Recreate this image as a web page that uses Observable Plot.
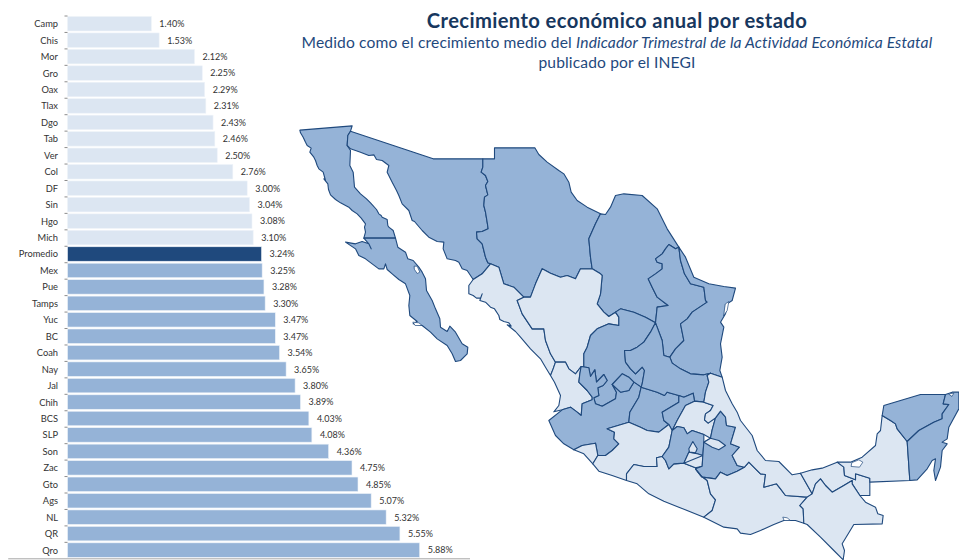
<!DOCTYPE html>
<html lang="es">
<head>
<meta charset="utf-8">
<script src="https://cdn.jsdelivr.net/npm/d3@7"></script>
<script src="https://cdn.jsdelivr.net/npm/@observablehq/plot@0.6"></script>
<style>
  html, body { margin: 0; padding: 0; background: #fff; }
  #page { position: relative; width: 959px; height: 560px; overflow: hidden; font-family: Lato, "Open Sans", sans-serif; }
  #page > svg, #page > figure { position: absolute; left: 0; top: 0; margin: 0; }
  #heading { position: absolute; left: 277px; width: 680px; top: 7px; text-align: center; }
  #heading h1 { margin: 0; font-size: 20.2px; line-height: 26px; font-weight: 700; color: #17375e; letter-spacing: .38px; }
  #heading p { margin: 0; font-size: 15.6px; line-height: 19.5px; color: #1f497d; letter-spacing: .14px; }
</style>
</head>
<body>
<div id="page">
  <div id="heading">
    <h1>Crecimiento económico anual por estado</h1>
    <p>Medido como el crecimiento medio del <em>Indicador Trimestral de la Actividad Económica Estatal</em><br>publicado por el INEGI</p>
  </div>
</div>
<script>
// Annual growth by state, in percent
const states = ["Camp","Chis","Mor","Gro","Oax","Tlax","Dgo","Tab","Ver","Col","DF","Sin","Hgo","Mich","Promedio","Mex","Pue","Tamps","Yuc","BC","Coah","Nay","Jal","Chih","BCS","SLP","Son","Zac","Gto","Ags","NL","QR","Qro"];
const growth = [1.40,1.53,2.12,2.25,2.29,2.31,2.43,2.46,2.50,2.76,3.00,3.04,3.08,3.10,3.24,3.25,3.28,3.30,3.47,3.47,3.54,3.65,3.80,3.89,4.03,4.08,4.36,4.75,4.85,5.07,5.32,5.55,5.88];
const average = "Promedio";
const rows = states.map((state, i) => ({state, value: growth[i]}));

const light = "#dce6f2", mid = "#95b3d7", dark = "#1f497d";
const barColor = d => d.state === average ? dark : d.value > 3.24 ? mid : light;

// States shaded as above average on the map
const shadedStates = ["BC","BCS","Son","Chih","Coah","NL","Tamps","SLP","Zac","Ags","Jal","Gto","Qro","Mex","Pue","Yuc","QR"];

// Outline arcs are digitised on four map sheets, each with its own origin and a scale of 3 units per map unit
const sheet = (x0, y0) => pts => pts.map(([x, y]) => [x0 + x / 3, y0 + y / 3]);
const NW = sheet(290, 115), NE = sheet(480, 140), C = sheet(540, 340), SE = sheet(740, 380);
const rev = a => [...a].reverse();

// Shared borders
const bcCoast = NW([[220,368],[225,350],[222,335],[225,325],[212,308],[200,295],[185,285],[175,275],[150,262],[135,252],[120,238],[114,222],[112,205],[100,190],[105,195],[98,170],[85,160],[80,150],[75,135],[70,125],[58,110],[62,98],[50,90],[45,80],[38,65],[30,52],[28,44],[185,31],[180,47]]);
const bcSon = NW([[180,47],[172,60],[170,90]]);
const bcGulf = NW([[170,90],[180,105],[178,150],[188,170],[192,215],[210,235],[228,250],[240,262],[258,282],[265,295],[272,300],[275,305],[290,312],[292,330],[295,335],[308,345],[315,368]]);
const bcBcs = NW([[315,368],[220,368]]);
const bcsCoast = NW([[315,368],[322,395],[345,410],[352,430],[368,435],[385,455],[395,470],[405,490],[408,525],[425,555],[435,580],[448,610],[450,635],[470,648],[478,632],[495,650],[515,685],[532,695],[530,715],[510,735],[495,738],[485,715],[470,690],[440,670],[420,650],[395,630],[368,625],[380,618],[358,600],[355,570],[358,540],[345,505],[325,492],[305,475],[290,462],[285,445],[280,460],[265,460],[245,445],[225,430],[205,420],[195,400],[165,380],[195,385],[215,378],[235,385],[242,400],[235,385],[220,368]]);
const sonNorth = NW([[180,47],[428,130],[577,130]]);
const sonChih = NW([[577,130],[577,155],[572,170],[585,180],[592,198],[585,210],[592,238],[582,245],[580,270],[585,290],[590,320],[593,340],[575,348],[558,350],[560,370],[575,385],[580,405],[585,425],[592,442],[600,445]]);
const sonSin = NW([[600,445],[575,475],[548,492]]);
const sonCoast = NW([[548,492],[530,465],[515,460],[505,440],[495,435],[470,430],[458,400],[460,380],[440,378],[415,365],[395,345],[372,318],[365,315],[355,285],[335,265],[325,240],[318,225],[305,200],[290,170],[295,150],[275,135],[258,132],[250,118],[235,120],[210,110],[180,100],[170,90]]);
const chihNorth = [...NE([[42,55],[42,22],[163,22],[175,42],[200,65],[235,90],[250,100],[265,125],[272,155],[290,180],[320,200],[360,220]])];
const chihCoah = NE([[360,220],[345,250],[325,295],[330,350],[335,385]]);
const chihDgo = NE([[335,385],[300,385],[285,415],[260,405],[240,410],[210,398],[185,385],[165,430],[150,470],[130,470]]);
const chihSin = NE([[130,470],[100,440],[70,430],[55,380],[30,370]]);
const coahNorth = NE([[360,220],[375,222],[390,200],[405,165],[430,160],[485,165],[530,205],[560,265],[595,320]]);
const coahNL = NE([[595,320],[585,325],[565,312],[555,325],[545,340],[525,355],[530,365],[545,370],[545,385],[525,400],[503,415],[515,440],[530,470],[563,495],[530,500],[525,547]]);
const coahZac = NE([[525,547],[495,530],[460,515],[420,505],[405,515]]);
const coahDgo = NE([[405,515],[385,528],[370,515],[350,490],[360,460],[365,405],[360,400],[335,385]]);
const dgoZac = [...NE([[405,515],[415,530],[415,555],[385,550],[350,565],[330,585],[320,620],[310,640],[310,680]]), ...C([[122,78]])];
const dgoNay = C([[122,78],[105,100],[85,85],[75,65],[50,65],[45,65]]);
const sinDgo = [...C([[45,65],[30,40],[15,0]]), ...NE([[190,565],[155,565],[125,520],[110,480],[130,470]])];
const sinCoast = [...NW([[548,492],[535,510],[535,535],[548,540],[558,548],[570,548],[575,535],[568,555],[585,560],[600,575],[612,580],[625,600],[628,612],[640,618],[655,622],[662,632],[650,628],[675,648],[690,665],[720,700]]), ...C([[0,55],[15,80],[30,105]])];
const sinNay = C([[30,105],[38,85],[45,65]]);
const nayJal = C([[122,78],[118,100],[115,125],[140,150],[155,170],[155,178],[125,190],[122,225],[110,215],[90,200],[65,208]]);
const nayCoast = C([[65,208],[40,214],[55,195],[60,165],[42,125],[30,105]]);
const zacJal = C([[122,78],[145,82],[150,108],[163,88],[168,125],[190,102],[200,120],[188,135],[172,142],[175,165],[160,172],[165,190],[185,197],[225,175],[228,155],[215,132]]);
const agsNorth = C([[215,132],[245,100],[265,110],[280,125]]);
const agsSouth = C([[215,132],[240,155],[265,150],[280,125]]);
const agsJ = C([[280,125],[302,140]]);
const slpZac = [...NE([[525,547],[510,575],[490,605],[470,620],[450,630],[432,630],[435,665]]), ...C([[270,85],[285,100],[305,80],[312,90],[305,130],[302,140]])];
const nlSlp = [...NE([[525,547],[545,600],[550,645]]), ...C([[388,50]])];
const tampsNL = [...C([[388,50]]), ...NE([[585,625],[610,600],[600,550],[620,535],[635,515],[680,485],[675,480],[670,440],[630,430],[612,400],[600,360],[595,320]])];
const tampsCoast = [...NE([[595,320],[615,350],[640,410],[685,430],[730,438],[765,443],[755,480],[740,490],[735,520],[720,545],[730,560],[720,610],[725,650],[718,690]]), ...C([[545,110]])];
const tampsVer = C([[545,110],[510,98]]);
const tampsSlp = C([[510,98],[490,103],[450,100],[420,85],[395,68],[388,50]]);
const slpVer = C([[510,98],[500,105],[505,125],[495,155],[490,185]]);
const slpHgo = C([[490,185],[462,182]]);
const slpQro = C([[462,182],[458,158],[430,170],[415,165]]);
const slpGto = C([[415,165],[380,155],[372,165],[350,155],[302,140]]);
const qroHgo = C([[462,182],[435,195],[410,240],[395,270]]);
const qroSouth = C([[395,270],[385,252]]);
const qroGto = C([[385,252],[370,240],[365,215],[415,185],[415,165]]);
const hgoVer = C([[490,185],[518,195],[510,210],[495,220],[492,238],[503,248],[525,232]]);
const hgoPue = C([[525,232],[515,268],[510,293]]);
const hgoMex = C([[395,270],[410,258],[430,262],[440,280],[455,270],[490,282]]);
const pueVer = C([[525,232],[540,212],[555,230],[558,255],[585,260],[570,310],[597,320],[575,345],[590,375],[612,380]]);
const pueOax = C([[612,380],[590,392],[560,405],[540,395],[525,415],[485,410],[465,385]]);
const mexPue = C([[490,282],[490,305],[487,345]]);
const mexMor = C([[487,345],[470,340],[445,335],[430,368]]);
const mexGro = C([[430,368],[400,370],[385,385],[375,360],[365,348]]);
const mexMich = C([[365,348],[385,320],[395,270]]);
const morGro = C([[430,368],[440,372],[465,382],[485,377]]);
const morPue = C([[485,377],[487,345]]);
const oaxVer = [...C([[612,380],[625,365],[645,385],[660,400]]), ...SE([[75,282],[70,320],[108,310],[120,325],[135,345],[200,350]])];
const oaxChis = SE([[200,350],[178,375],[188,385],[190,428]]);
const oaxCoast = [...SE([[190,428],[165,420],[130,420],[100,432],[60,450],[30,462],[0,458]]), ...C([[590,565],[550,560],[490,530]])];
const oaxGro = C([[490,530],[515,510],[525,478],[510,460],[500,420],[480,405],[465,385]]);
const groCoast = C([[490,530],[415,500],[370,482],[325,460],[290,430],[258,420]]);
const groMich = C([[258,420],[258,400],[280,372],[310,378],[350,378],[348,352],[365,348]]);
const michCoast = C([[258,420],[215,405],[175,392],[157,370]]);
const colMich = C([[157,370],[172,345]]);
const jalMich = C([[172,345],[195,345],[215,330],[235,310],[220,295],[222,275],[200,265],[265,245]]);
const gtoMich = C([[265,245],[300,260],[320,270],[355,275],[385,252]]);
const gtoJal = C([[302,140],[295,170],[268,215],[265,245]]);
const jalCol = C([[172,345],[165,308],[125,315],[100,328]]);
const colCoast = C([[100,328],[130,340],[157,370]]);
const jalCoast = C([[100,328],[70,310],[45,285],[25,240],[65,208]]);
const verCoast = [...C([[545,110],[555,150],[575,190],[590,215],[600,240],[635,285]]), ...SE([[50,210],[75,240],[115,243],[155,283],[180,278]])];
const verTab = SE([[200,350],[215,340],[180,278]]);
const tabCoast = SE([[180,278],[215,268],[245,263],[290,245]]);
const tabCamp = SE([[290,245],[310,260],[312,285],[345,298],[345,280],[388,293],[388,305]]);
const tabChis = SE([[388,305],[388,345],[358,345],[335,310],[335,300],[310,315],[275,335],[255,315],[240,295],[225,310],[215,340]]);
const chisRest = SE([[358,345],[375,365],[405,380],[412,400],[428,405],[425,430],[340,432],[305,490],[312,510],[308,538],[280,510],[240,470],[200,432],[190,428]]);
const chisInner = SE([[215,340],[225,310],[240,295],[255,315],[275,335],[310,315],[335,300],[335,310],[358,345]]);
const campSouth = SE([[388,305],[508,300],[500,183]]);
const campYuc = SE([[500,183],[470,145],[465,130],[450,120],[425,105]]);
const campCoast = SE([[425,105],[420,150],[410,160],[405,195],[365,230],[330,245],[290,245]]);
const yucQR = SE([[615,42],[608,70],[625,72],[605,100],[605,115],[580,125],[535,150],[500,183]]);
const yucCoast = SE([[425,105],[430,75],[480,60],[540,42],[615,42]]);
const qrCoast = SE([[615,42],[635,35],[655,35],[655,85],[625,140],[620,175],[605,185],[620,190],[605,210],[600,260],[585,300],[580,270],[585,235],[575,240],[560,265],[530,298],[508,300],[500,183]]);

// One closed ring per state; later rings sit over earlier ones (DF inside Mex, Tlax beside Pue)
const rings = {
  BC: [bcCoast, bcSon, bcGulf, bcBcs],
  BCS: [bcsCoast],
  Son: [sonNorth, sonChih, sonSin, sonCoast, rev(bcSon)],
  Chih: [rev(sonChih), chihNorth, chihCoah, chihDgo, chihSin],
  Coah: [coahNorth, coahNL, coahZac, coahDgo, rev(chihCoah)],
  NL: [coahNL, nlSlp, tampsNL],
  Tamps: [tampsCoast, tampsVer, tampsSlp, tampsNL],
  Sin: [chihSin, sonSin, sinCoast, sinNay, sinDgo],
  Dgo: [rev(chihDgo), rev(coahDgo), dgoZac, dgoNay, sinDgo],
  Nay: [rev(dgoNay), nayJal, nayCoast, sinNay],
  Zac: [coahZac, dgoZac, zacJal, agsNorth, agsJ, rev(slpZac)],
  Jal: [jalCoast, rev(nayJal), zacJal, agsSouth, agsJ, gtoJal, rev(jalMich), jalCol],
  Ags: [agsNorth, rev(agsSouth)],
  Col: [rev(colMich), jalCol, colCoast],
  Gto: [rev(slpGto), rev(qroGto), rev(gtoMich), rev(gtoJal)],
  SLP: [rev(slpZac), nlSlp, rev(tampsSlp), slpVer, slpHgo, slpQro, slpGto],
  Qro: [rev(slpQro), qroHgo, qroSouth, qroGto],
  Hgo: [rev(qroHgo), rev(slpHgo), hgoVer, hgoPue, C([[490,282]]), rev(hgoMex)],
  Mich: [rev(groMich), michCoast, colMich, jalMich, gtoMich, rev(qroSouth), rev(mexMich)],
  Gro: [rev(oaxGro), groCoast, groMich, rev(mexGro), morGro, C([[465,385]])],
  Mex: [hgoMex, mexPue, mexMor, mexGro, mexMich],
  Mor: [rev(mexMor), morGro, morPue],
  Pue: [pueVer, pueOax, C([[485,377],[487,345],[490,305],[510,293]]), rev(hgoPue)],
  Oax: [rev(pueOax), oaxVer, oaxChis, oaxCoast, oaxGro],
  Ver: [tampsVer, slpVer, hgoVer, pueVer, oaxVer, verTab, rev(verCoast)],
  Tab: [tabCoast, tabCamp, tabChis, rev(verTab).slice(0, 2).reverse()],
  Chis: [chisInner, chisRest, rev(oaxChis), SE([[215,340]])],
  Camp: [tabCamp, campSouth, campYuc, campCoast],
  Yuc: [yucCoast, yucQR, campYuc],
  QR: [qrCoast, rev(yucQR)],
  Tlax: [C([[490,305],[510,293],[535,300],[555,315],[535,328],[515,320],[490,305]])],
  DF: [C([[445,325],[457,303],[470,325],[465,337],[447,335],[445,325]])]
};

// Small inland waters and islands left white
const waters = [
  NW([[372,452],[380,452],[388,470],[380,474],[372,462]]),
  NW([[368,620],[385,622],[395,630],[375,630]]),
  SE([[335,246],[355,238],[367,245],[357,260],[333,258]]),
  SE([[128,410],[140,412],[150,420],[132,420]]),
  NE([[735,490],[745,483],[740,510],[730,525]]),
  SE([[625,40],[640,38],[635,47]])
];

const feature = (name, ring) => ({type: "Feature", properties: {name}, geometry: {type: "Polygon", coordinates: [ring]}});
const closed = r => [...r, r[0]];
const mapFeatures = Object.entries(rings).map(([name, arcs]) => feature(name, closed(arcs.flat())));
const waterFeatures = waters.map((r, i) => feature("agua" + i, closed(r)));

const step = (558.3 - 15.5) / states.length;

const bars = Plot.plot({
  width: 470, height: 560,
  marginTop: 15.5, marginBottom: 1.7, marginLeft: 67.5, marginRight: 0,
  x: {domain: [0, 6.72], range: [67.5, 470], axis: null},
  y: {domain: states, range: [15.5, 558.3], paddingInner: 0.12, paddingOuter: 0.06, round: false, label: null, axis: null},
  style: {fontFamily: "Lato, 'Open Sans', sans-serif", fontSize: "9px", color: "#333"},
  marks: [
    Plot.barX(rows, {x: "value", y: "state", fill: barColor, stroke: "#eef3f9", strokeWidth: 0.6}),
    Plot.text(rows, {x: "value", y: "state", text: d => d.value.toFixed(2) + "%", textAnchor: "start", dx: 7.5, fontSize: 9, fill: "#333"}),
    Plot.axisY({anchor: "left", tickSize: 0, tickPadding: 10, fontSize: 9.3, label: null}),
    Plot.ruleY(states, {y: d => d, dy: -step / 2, x1: -0.05, x2: 0, stroke: "#8c8c8c", strokeWidth: 1}),
    Plot.ruleY([states[states.length - 1]], {y: d => d, dy: step / 2, x1: -0.99, x2: 6.72, stroke: "#a6a6a6", strokeWidth: 1}),
    Plot.ruleX([0], {y1: states[0], y2: states[states.length - 1], insetTop: -8, insetBottom: -8, stroke: "#8c8c8c", strokeWidth: 1})
  ]
});

const map = Plot.plot({
  width: 959, height: 560, margin: 0,
  projection: "identity",
  marks: [
    Plot.geo(mapFeatures, {fill: d => shadedStates.includes(d.properties.name) ? mid : light, stroke: dark, strokeWidth: 1.1, strokeLinejoin: "round"}),
    Plot.geo(waterFeatures, {fill: "#fff", stroke: dark, strokeWidth: 0.7})
  ]
});
map.style.background = "transparent";

const page = document.getElementById("page");
page.prepend(map);
page.prepend(bars);
</script>
</body>
</html>
